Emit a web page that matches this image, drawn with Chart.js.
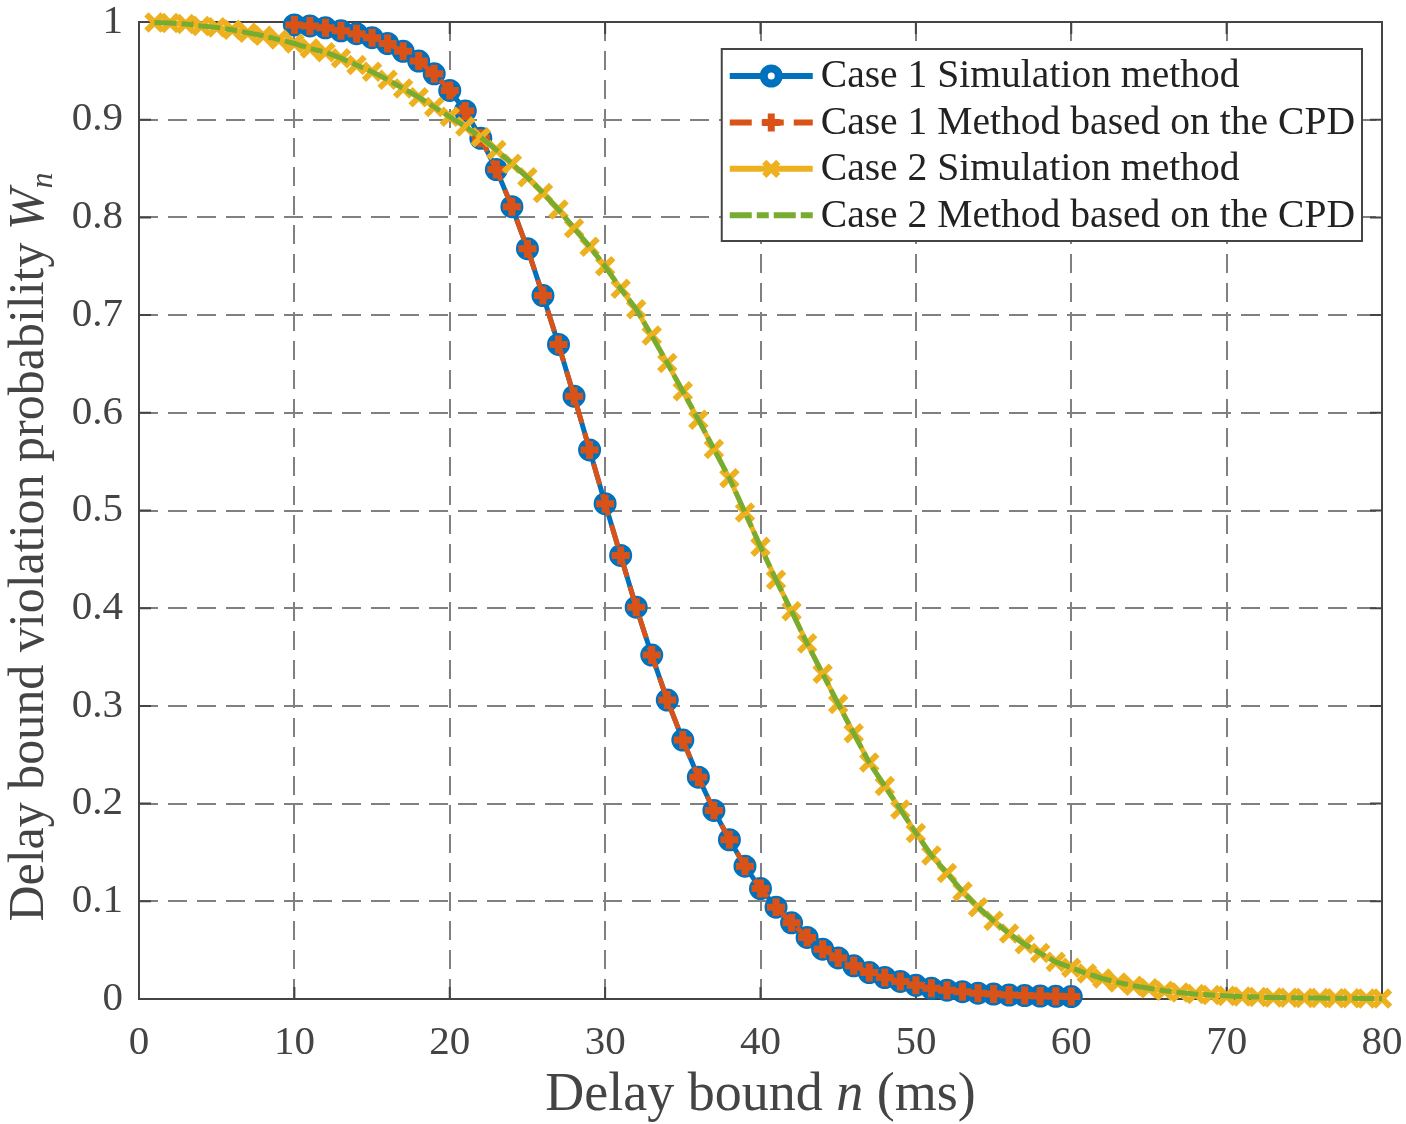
<!DOCTYPE html>
<html>
<head>
<meta charset="utf-8">
<script src="https://cdn.jsdelivr.net/npm/chart.js"></script>
<style>
    html, body { margin: 0; padding: 0; background: #ffffff; }
    #wrap { width: 1406px; height: 1124px; }
</style>
</head>
<body>
<div id="wrap"><canvas id="delayChart" width="1406" height="1124"></canvas></div>
<script>

/* =========================
   DATA
========================= */

const case1X = [
    10, 11, 12, 13, 14, 15, 16, 17, 18, 19,
    20, 21, 22, 23, 24, 25, 26, 27, 28, 29,
    30, 31, 32, 33, 34, 35, 36, 37, 38, 39,
    40, 41, 42, 43, 44, 45, 46, 47, 48, 49,
    50, 51, 52, 53, 54, 55, 56, 57, 58, 59, 60
];

const case1Simulation = [
    0.997, 0.996, 0.994, 0.991, 0.988, 0.984, 0.978, 0.970, 0.960, 0.947,
    0.930, 0.909, 0.881, 0.849, 0.811, 0.768, 0.720, 0.670, 0.617, 0.562,
    0.507, 0.454, 0.401, 0.352, 0.306, 0.265, 0.227, 0.193, 0.163, 0.136,
    0.113, 0.094, 0.078, 0.063, 0.051, 0.042, 0.034, 0.027, 0.022, 0.018,
    0.014, 0.011, 0.009, 0.0075, 0.006, 0.005, 0.004, 0.0035, 0.003, 0.0028, 0.0025
];

const case1Cpd = [
    0.997, 0.996, 0.994, 0.991, 0.988, 0.984, 0.978, 0.970, 0.960, 0.947,
    0.930, 0.909, 0.881, 0.849, 0.811, 0.768, 0.720, 0.670, 0.617, 0.562,
    0.507, 0.454, 0.401, 0.352, 0.306, 0.265, 0.227, 0.193, 0.163, 0.136,
    0.113, 0.094, 0.078, 0.063, 0.051, 0.042, 0.034, 0.027, 0.022, 0.018,
    0.014, 0.011, 0.009, 0.0075, 0.006, 0.005, 0.004, 0.0035, 0.003, 0.0028, 0.0025
];

const case2X = [
    1, 2, 3, 4, 5, 6, 7, 8, 9, 10,
    11, 12, 13, 14, 15, 16, 17, 18, 19, 20,
    21, 22, 23, 24, 25, 26, 27, 28, 29, 30,
    31, 32, 33, 34, 35, 36, 37, 38, 39, 40,
    41, 42, 43, 44, 45, 46, 47, 48, 49, 50,
    51, 52, 53, 54, 55, 56, 57, 58, 59, 60,
    61, 62, 63, 64, 65, 66, 67, 68, 69, 70,
    71, 72, 73, 74, 75, 76, 77, 78, 79, 80
];

const case2Simulation = [
    0.9995, 0.999, 0.998, 0.996, 0.9945, 0.992, 0.989, 0.986, 0.982, 0.978,
    0.973, 0.969, 0.963, 0.956, 0.949, 0.941, 0.932, 0.923, 0.913, 0.903,
    0.893, 0.882, 0.869, 0.855, 0.841, 0.825, 0.808, 0.789, 0.770, 0.750,
    0.727, 0.706, 0.679, 0.651, 0.622, 0.593, 0.563, 0.533, 0.498, 0.463,
    0.429, 0.397, 0.364, 0.333, 0.302, 0.272, 0.242, 0.218, 0.194, 0.170,
    0.147, 0.129, 0.110, 0.094, 0.080, 0.067, 0.056, 0.047, 0.038, 0.032,
    0.026, 0.021, 0.017, 0.0136, 0.011, 0.0085, 0.0066, 0.005, 0.004, 0.0032,
    0.0026, 0.002, 0.0016, 0.0013, 0.001, 0.0009, 0.0008, 0.0007, 0.0006, 0.0005
];

const case2Cpd = [
    0.9995, 0.999, 0.998, 0.996, 0.9945, 0.992, 0.989, 0.986, 0.982, 0.978,
    0.973, 0.969, 0.963, 0.956, 0.949, 0.941, 0.932, 0.923, 0.913, 0.903,
    0.893, 0.882, 0.869, 0.855, 0.841, 0.825, 0.808, 0.789, 0.770, 0.750,
    0.727, 0.706, 0.679, 0.651, 0.622, 0.593, 0.563, 0.533, 0.498, 0.463,
    0.429, 0.397, 0.364, 0.333, 0.302, 0.272, 0.242, 0.218, 0.194, 0.170,
    0.147, 0.129, 0.110, 0.094, 0.080, 0.067, 0.056, 0.047, 0.038, 0.032,
    0.026, 0.021, 0.017, 0.0136, 0.011, 0.0085, 0.0066, 0.005, 0.004, 0.0032,
    0.0026, 0.002, 0.0016, 0.0013, 0.001, 0.0009, 0.0008, 0.0007, 0.0006, 0.0005
];

const xTicks = [0, 10, 20, 30, 40, 50, 60, 70, 80];

const yTicks = [0, 0.1, 0.2, 0.3, 0.4, 0.5, 0.6, 0.7, 0.8, 0.9, 1];

const seriesLabels = [
    "Case 1 Simulation method",
    "Case 1 Method based on the CPD",
    "Case 2 Simulation method",
    "Case 2 Method based on the CPD"
];

/* =========================
   STYLE
========================= */

const SERIF = "'Liberation Serif', 'Times New Roman', serif";
const AXIS_COLOR = "#444444";
const GRID_COLOR = "#808080";

const BLUE = "#0072BD";
const RED = "#D95319";
const YELLOW = "#EDB120";
const GREEN = "#77AC30";

const seriesStyles = [
    { color: BLUE, dash: [], marker: "circle" },
    { color: RED, dash: [22, 10], marker: "cross" },
    { color: YELLOW, dash: [], marker: "crossRot" },
    { color: GREEN, dash: [22, 5, 12, 5], marker: null }
];

function toPoints(xs, ys) {
    return xs.map((x, i) => ({ x: x, y: ys[i] }));
}

/* =========================
   MARKERS (legend)
========================= */

function drawMarker(ctx, type, color, cx, cy) {

    ctx.save();
    ctx.setLineDash([]);
    ctx.lineCap = "butt";

    if (type === "circle") {
        ctx.beginPath();
        ctx.arc(cx, cy, 7.5, 0, Math.PI * 2);
        ctx.fillStyle = "#ffffff";
        ctx.fill();
        ctx.lineWidth = 8;
        ctx.strokeStyle = color;
        ctx.stroke();
    }

    if (type === "cross") {
        ctx.beginPath();
        ctx.moveTo(cx - 9, cy);
        ctx.lineTo(cx + 9, cy);
        ctx.moveTo(cx, cy - 9);
        ctx.lineTo(cx, cy + 9);
        ctx.lineWidth = 7;
        ctx.strokeStyle = color;
        ctx.stroke();
    }

    if (type === "crossRot") {
        const d = 7;
        ctx.beginPath();
        ctx.moveTo(cx - d, cy - d);
        ctx.lineTo(cx + d, cy + d);
        ctx.moveTo(cx - d, cy + d);
        ctx.lineTo(cx + d, cy - d);
        ctx.lineWidth = 6;
        ctx.strokeStyle = color;
        ctx.stroke();
    }

    ctx.restore();
}

/* =========================
   PLUGINS
========================= */

const axesFrame = {

    id: "axesFrame",

    beforeDatasetsDraw(chart) {

        const ctx = chart.ctx;
        const area = chart.chartArea;
        const xs = chart.scales.x;
        const ys = chart.scales.y;
        const tickLen = 12;

        ctx.save();
        ctx.strokeStyle = AXIS_COLOR;
        ctx.lineWidth = 2;
        ctx.setLineDash([]);

        ctx.strokeRect(area.left, area.top, area.right - area.left, area.bottom - area.top);

        ctx.beginPath();

        xTicks.forEach(v => {
            const px = xs.getPixelForValue(v);
            ctx.moveTo(px, area.bottom);
            ctx.lineTo(px, area.bottom - tickLen);
            ctx.moveTo(px, area.top);
            ctx.lineTo(px, area.top + tickLen);
        });

        yTicks.forEach(v => {
            const py = ys.getPixelForValue(v);
            ctx.moveTo(area.left, py);
            ctx.lineTo(area.left + tickLen, py);
            ctx.moveTo(area.right, py);
            ctx.lineTo(area.right - tickLen, py);
        });

        ctx.stroke();
        ctx.restore();
    }
};

function drawRuns(ctx, runs, startX, baseY) {

    let x = startX;

    runs.forEach(r => {
        ctx.font = r.font;
        ctx.fillText(r.text, x, baseY + (r.dy || 0));
        x += ctx.measureText(r.text).width;
    });
}

function runsWidth(ctx, runs) {

    let w = 0;

    runs.forEach(r => {
        ctx.font = r.font;
        w += ctx.measureText(r.text).width;
    });

    return w;
}

const axisTitles = {

    id: "axisTitles",

    afterDraw(chart) {

        const ctx = chart.ctx;
        const area = chart.chartArea;

        ctx.save();
        ctx.fillStyle = AXIS_COLOR;
        ctx.textAlign = "left";
        ctx.textBaseline = "alphabetic";

        const xRuns = [
            { text: "Delay bound ", font: "54px " + SERIF },
            { text: "n", font: "italic 54px " + SERIF },
            { text: " (ms)", font: "54px " + SERIF }
        ];

        const xw = runsWidth(ctx, xRuns);
        const xc = (area.left + area.right) / 2;

        drawRuns(ctx, xRuns, xc - xw / 2, 1110);

        const yRuns = [
            { text: "Delay bound violation probability ", font: "50px " + SERIF },
            { text: "W", font: "italic 50px " + SERIF },
            { text: "n", font: "italic 32px " + SERIF, dy: 9 }
        ];

        const yw = runsWidth(ctx, yRuns);

        ctx.translate(43, 547);
        ctx.rotate(-Math.PI / 2);
        drawRuns(ctx, yRuns, -yw / 2, 0);

        ctx.restore();
    }
};

const legendBox = {

    id: "legendBox",

    afterDraw(chart) {

        const ctx = chart.ctx;
        const area = chart.chartArea;
        const legendFont = "39.6px " + SERIF;

        ctx.save();
        ctx.font = legendFont;

        let maxW = 0;
        seriesLabels.forEach(t => {
            maxW = Math.max(maxW, ctx.measureText(t).width);
        });

        const right = area.right - 20;
        const left = right - (99 + maxW + 7);
        const top = area.top + 27;
        const rowH = 46.4;
        const height = 192;

        ctx.fillStyle = "#ffffff";
        ctx.fillRect(left, top, right - left, height);
        ctx.strokeStyle = AXIS_COLOR;
        ctx.lineWidth = 2;
        ctx.strokeRect(left, top, right - left, height);

        seriesLabels.forEach((label, i) => {

            const st = seriesStyles[i];
            const cy = top + 27 + rowH * i;
            const x0 = left + 8;
            const x1 = left + 91;

            ctx.beginPath();
            ctx.setLineDash(st.dash);
            ctx.lineCap = "butt";
            ctx.lineWidth = 6;
            ctx.strokeStyle = st.color;
            ctx.moveTo(x0, cy);
            ctx.lineTo(x1, cy);
            ctx.stroke();
            ctx.setLineDash([]);

            if (st.marker)
                drawMarker(ctx, st.marker, st.color, (x0 + x1) / 2, cy);

            ctx.fillStyle = "#222222";
            ctx.textAlign = "left";
            ctx.textBaseline = "middle";
            ctx.font = legendFont;
            ctx.fillText(label, left + 99, cy + 1);
        });

        ctx.restore();
    }
};

/* =========================
   CHART
========================= */

function renderDelayChart() {

    const ctx = document.getElementById("delayChart");

    new Chart(ctx, {

        type: "line",

        data: {

            datasets: [

                {
                    label: seriesLabels[0],
                    data: toPoints(case1X, case1Simulation),
                    borderColor: BLUE,
                    borderWidth: 5,
                    pointStyle: "circle",
                    pointRadius: 7.5,
                    pointBorderWidth: 8,
                    pointBorderColor: BLUE,
                    pointBackgroundColor: "#ffffff",
                    tension: 0,
                    clip: false,
                    order: 4
                },

                {
                    label: seriesLabels[1],
                    data: toPoints(case1X, case1Cpd),
                    borderColor: RED,
                    borderWidth: 5,
                    borderDash: [22, 10],
                    pointStyle: "cross",
                    pointRadius: 9,
                    pointBorderWidth: 7,
                    pointBorderColor: RED,
                    pointBackgroundColor: RED,
                    tension: 0,
                    clip: false,
                    order: 3
                },

                {
                    label: seriesLabels[2],
                    data: toPoints(case2X, case2Simulation),
                    borderColor: YELLOW,
                    borderWidth: 5,
                    pointStyle: "crossRot",
                    pointRadius: 11.5,
                    pointBorderWidth: 6,
                    pointBorderColor: YELLOW,
                    pointBackgroundColor: YELLOW,
                    tension: 0,
                    clip: false,
                    order: 2
                },

                {
                    label: seriesLabels[3],
                    data: toPoints(case2X, case2Cpd),
                    borderColor: GREEN,
                    borderWidth: 5,
                    borderDash: [22, 5, 12, 5],
                    pointRadius: 0,
                    tension: 0,
                    clip: false,
                    order: 1
                }

            ]

        },

        options: {

            responsive: false,

            animation: false,

            layout: {
                padding: { left: 0, right: 24, top: 22, bottom: 0 }
            },

            plugins: {
                legend: { display: false },
                tooltip: { enabled: false }
            },

            scales: {

                x: {
                    type: "linear",
                    min: 0,
                    max: 80,
                    afterBuildTicks: scale => {
                        scale.ticks = xTicks.map(v => ({ value: v }));
                    },
                    afterFit: scale => {
                        scale.height = 125;
                        scale.paddingLeft = 0;
                        scale.paddingRight = 0;
                    },
                    ticks: {
                        color: AXIS_COLOR,
                        padding: 24,
                        maxRotation: 0,
                        font: { family: SERIF, size: 41, lineHeight: 1 }
                    },
                    grid: {
                        color: GRID_COLOR,
                        lineWidth: 2,
                        drawTicks: false
                    },
                    border: {
                        display: false,
                        dash: [19, 10]
                    }
                },

                y: {
                    type: "linear",
                    min: 0,
                    max: 1,
                    afterBuildTicks: scale => {
                        scale.ticks = yTicks.map(v => ({ value: v }));
                    },
                    afterFit: scale => {
                        scale.width = 139;
                        scale.paddingTop = 0;
                        scale.paddingBottom = 0;
                    },
                    ticks: {
                        color: AXIS_COLOR,
                        padding: 16,
                        font: { family: SERIF, size: 41, lineHeight: 1 },
                        callback: v => String(Math.round(v * 10) / 10)
                    },
                    grid: {
                        color: GRID_COLOR,
                        lineWidth: 2,
                        drawTicks: false
                    },
                    border: {
                        display: false,
                        dash: [19, 10]
                    }
                }

            }

        },

        plugins: [axesFrame, axisTitles, legendBox]

    });

}

renderDelayChart();

</script>
</body>
</html>
